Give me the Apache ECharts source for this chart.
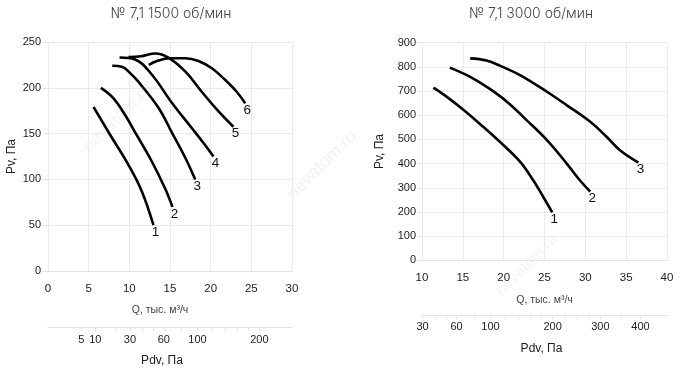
<!DOCTYPE html>
<html>
<head>
<meta charset="utf-8">
<script src="https://cdn.jsdelivr.net/npm/echarts@6/dist/echarts.min.js"></script>
<style>html,body{margin:0;padding:0;background:#fff}#c{width:700px;height:382px}</style>
</head>
<body>
<div id="c"></div>
<script>
// ---- data ----
const titleLeft = '№ 7,1 1500 об/мин';
const titleRight = '№ 7,1 3000 об/мин';
const qName = 'Q, тыс. м³/ч';
const pvName = 'Pv, Па';
const pdvName = 'Pdv, Па';
const watermark = 'nevatom.ru';
const K = 0.296; // Pdv = K * Q^2

// 1500 rpm curves [Q, Pv]
const n1500 = ['1', '2', '3', '4', '5', '6'];
const c1500_1 = [[5.6,179],[7.65,148.5],[9.9,115.7],[11.55,86.6],[12.97,50]];
const c1500_2 = [[6.5,200],[8.0,189],[9.5,170],[10.9,148.5],[12.8,119],[14.4,90],[15.3,70]];
const c1500_3 = [[7.9,224],[9.1,223],[10.1,216],[11.1,206.7],[13.6,178],[15.3,150],[16.8,125],[18.1,100]];
const c1500_4 = [[8.8,233],[10.7,231],[12.8,214],[15.2,184],[17.6,157],[19.1,140],[20.35,125]];
const c1500_5 = [[9.9,233.5],[11.5,234.5],[13.2,237.5],[14.8,233],[16.9,217.6],[18.9,195.7],[21.0,174],[22.8,157.5]];
const c1500_6 = [[12.4,225],[13.4,229.3],[15.0,232.2],[16.9,232.2],[18.5,229.3],[20.15,221.3],[21.8,208.5],[23.2,195.7],[24.25,183]];

// 3000 rpm curves [Q, Pv]
const n3000 = ['1', '2', '3'];
const c3000_1 = [[11.4,714],[13.0,677],[15.1,622],[17.5,552],[19.95,477],[22.0,408],[23.6,332],[24.8,265],[25.95,198]];
const c3000_2 = [[13.4,797],[15.9,759],[17.9,718],[20.4,656],[22.8,580],[25.3,497],[27.7,401],[29.3,332],[30.6,284]];
const c3000_3 = [[15.9,835],[17.9,826],[19.6,804],[22.0,766],[25.3,697],[27.7,642],[30.6,573],[32.6,511],[34.2,456],[36.5,404]];

// axis ticks
const pdvLabels1500 = [5, 10, 30, 60, 100, 200];
const pdvTicks1500 = [5, 10, 20, 30, 40, 50, 60, 80, 100, 120, 140, 160, 180, 200];
const pdvLabels3000 = [30, 60, 100, 200, 300, 400];
const pdvTicks3000 = [30, 40, 50, 60, 80, 100, 120, 140, 160, 180, 200, 225, 250, 275, 300, 350, 400];

// ---- chart ----
const toQ = p => Math.sqrt(p / K);
const font = '"Liberation Sans", Arial, sans-serif';
const gridColor = '#ebebeb';

function mainX(grid, min, max) {
  return {
    type: 'value', gridIndex: grid, min: min, max: max, interval: 5,
    name: qName, nameLocation: 'middle', nameGap: 34,
    nameTextStyle: { fontFamily: font, fontSize: 10.5, color: '#444', padding: grid === 0 ? [0, 20, 0, 0] : 0 },
    axisLine: { show: true, lineStyle: { color: '#e3e3e3' } },
    axisTick: { show: false },
    axisLabel: { fontFamily: font, fontSize: 11.5, color: '#222', margin: 12 },
    splitLine: { show: true, lineStyle: { color: gridColor } }
  };
}
function pdvX(grid, min, max, offset, labels, ticks, gap) {
  return {
    type: 'value', gridIndex: grid, min: min, max: max, position: 'bottom', offset: offset,
    name: pdvName, nameLocation: 'middle', nameGap: gap,
    nameTextStyle: { fontFamily: font, fontSize: 12, color: '#222', padding: grid === 0 ? [0, 16, 0, 0] : [0, 6, 0, 0] },
    axisLine: { show: true, lineStyle: { color: '#e3e3e3' } },
    axisTick: { show: true, inside: false, length: 4, lineStyle: { color: '#e3e3e3' }, customValues: ticks.map(toQ) },
    axisLabel: { fontFamily: font, fontSize: 11, color: '#222', margin: 7,
      customValues: labels.map(toQ), formatter: v => String(Math.round(K * v * v)) },
    splitLine: { show: false }
  };
}
function mainY(grid, max, interval, gap, margin) {
  return {
    type: 'value', gridIndex: grid, min: 0, max: max, interval: interval,
    name: pvName, nameLocation: 'middle', nameGap: gap,
    nameTextStyle: { fontFamily: font, fontSize: 12, color: '#222' },
    axisLine: { show: false },
    axisTick: { show: true, length: 5, lineStyle: { color: '#e3e3e3' } },
    axisLabel: { fontFamily: font, fontSize: 11, color: '#222', margin: margin },
    splitLine: { show: true, lineStyle: { color: gridColor } }
  };
}
function curve(name, data, xi, yi) {
  return {
    type: 'line', name: name, xAxisIndex: xi, yAxisIndex: yi, data: data,
    smooth: 0.4, showSymbol: false, symbol: 'none', silent: true,
    lineStyle: { color: '#000', width: 2.6 },
    endLabel: { show: true, formatter: '{a}', fontFamily: font, fontSize: 13.5, color: '#111',
      align: 'center', verticalAlign: 'top', distance: 0, offset: [2, 0] },
    animation: false
  };
}

const series = [];
[c1500_1, c1500_2, c1500_3, c1500_4, c1500_5, c1500_6].forEach((d, i) => series.push(curve(n1500[i], d, 0, 0)));
[c3000_1, c3000_2, c3000_3].forEach((d, i) => series.push(curve(n3000[i], d, 2, 1)));

function wm(x, y, size, color) {
  return { type: 'text', x: x, y: y, rotation: Math.PI / 4, z: -10, silent: true,
    style: { text: watermark, textAlign: 'center', textVerticalAlign: 'middle',
      font: size + 'px "Liberation Sans", Arial, sans-serif', fill: color } };
}

const chart = echarts.init(document.getElementById('c'), null, { renderer: 'canvas' });
chart.setOption({
  backgroundColor: '#fff',
  animation: false,
  grid: [
    { left: 48, right: 408, top: 42, bottom: 111 },
    { left: 422, right: 33, top: 42.7, bottom: 121.7 }
  ],
  xAxis: [
    mainX(0, 0, 30),
    pdvX(0, 0, 30, 56, pdvLabels1500, pdvTicks1500, 28),
    mainX(1, 10, 40),
    pdvX(1, 10, 40, 54.5, pdvLabels3000, pdvTicks3000, 28)
  ],
  yAxis: [
    mainY(0, 250, 50, 30, 7),
    mainY(1, 900, 100, 36, 6)
  ],
  graphic: [
    wm(118, 118, 18, 'rgba(0,0,0,0.05)'),
    wm(322, 165, 18, 'rgba(0,0,0,0.06)'),
    wm(527, 265, 16, 'rgba(0,0,0,0.05)'),
    { type: 'text', x: 171, y: 14, style: { text: titleLeft, textAlign: 'center', textVerticalAlign: 'middle',
      font: '300 14px Inter, "Noto Sans", sans-serif', fill: '#444' } },
    { type: 'text', x: 531, y: 14, style: { text: titleRight, textAlign: 'center', textVerticalAlign: 'middle',
      font: '300 14px Inter, "Noto Sans", sans-serif', fill: '#444' } }
  ],
  series: series
});
</script>
</body>
</html>
